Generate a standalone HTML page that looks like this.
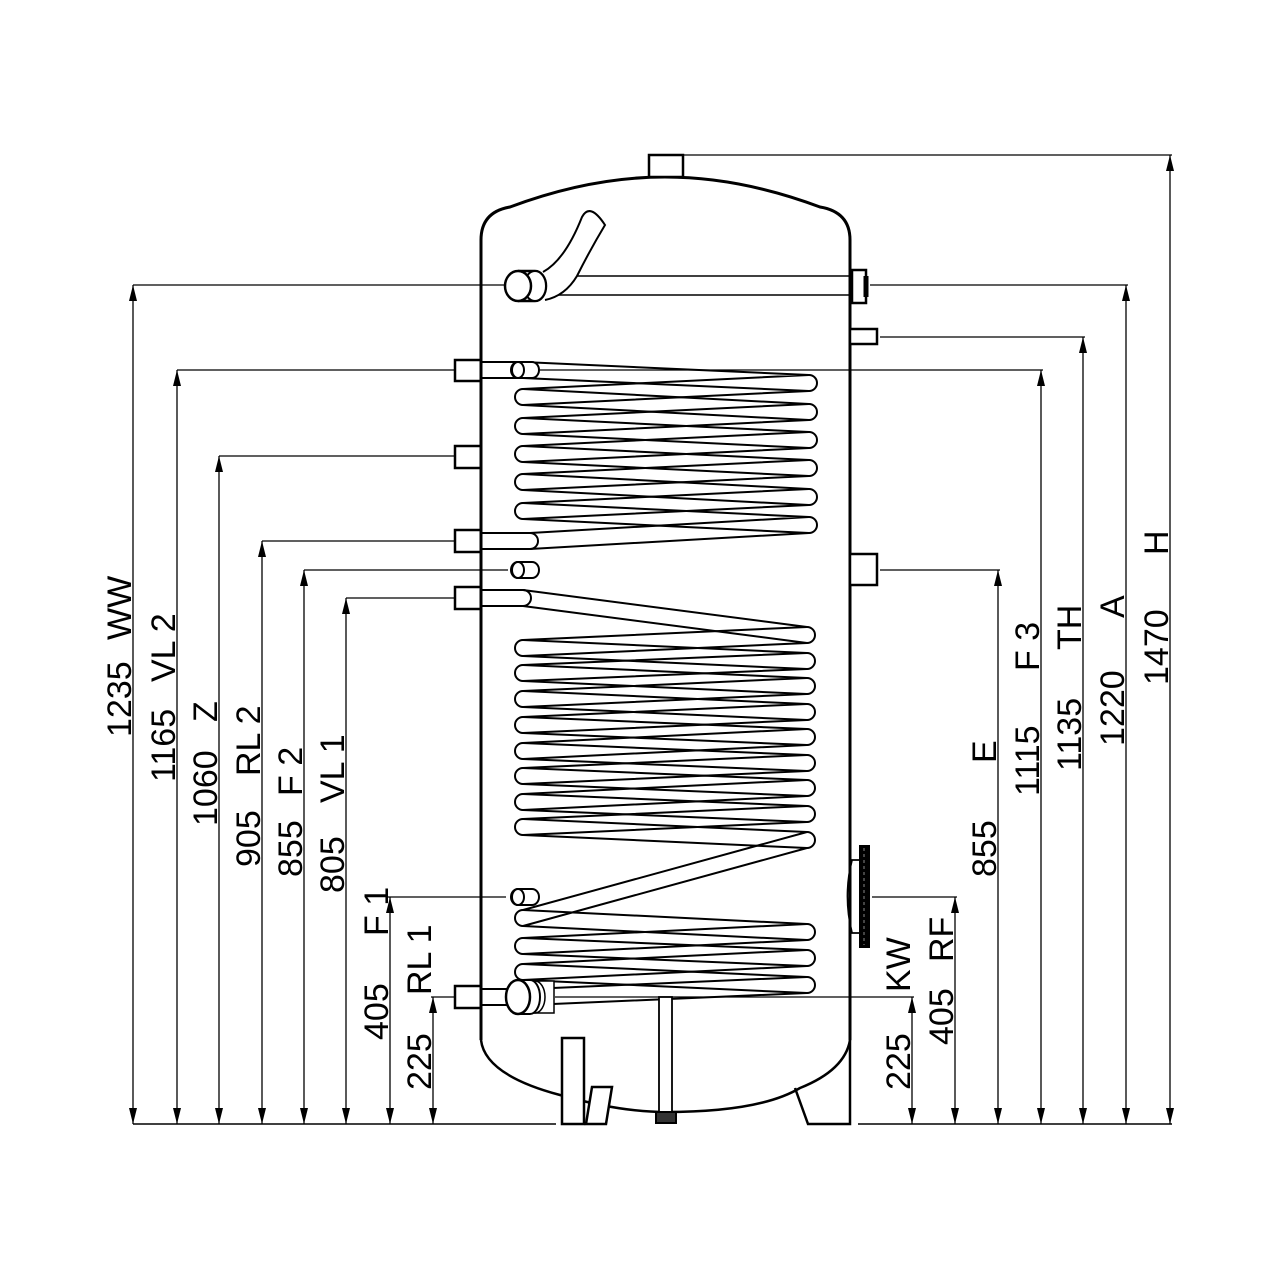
<!DOCTYPE html>
<html><head><meta charset="utf-8"><style>
html,body{margin:0;padding:0;background:#fff}
svg{display:block}
text{font-family:"Liberation Sans",Arial,sans-serif;font-size:34px;fill:#000}
</style></head><body>
<svg width="1280" height="1280" viewBox="0 0 1280 1280" xmlns="http://www.w3.org/2000/svg">
<g fill="none" stroke="#000">
<line x1="133" y1="1124" x2="556" y2="1124" stroke-width="1.5"/>
<line x1="858" y1="1124" x2="1172" y2="1124" stroke-width="1.5"/>
<g stroke-width="1.3">
<line x1="682" y1="155" x2="1172" y2="155"/>
<line x1="133" y1="285" x2="505" y2="285"/>
<line x1="870" y1="285" x2="1128" y2="285"/>
<line x1="880" y1="337" x2="1085" y2="337"/>
<line x1="177" y1="370" x2="455" y2="370"/>
<line x1="540" y1="370" x2="1043" y2="370"/>
<line x1="219" y1="456" x2="455" y2="456"/>
<line x1="262" y1="541" x2="455" y2="541"/>
<line x1="304" y1="570" x2="508" y2="570"/>
<line x1="880" y1="570" x2="1000" y2="570"/>
<line x1="346" y1="598" x2="455" y2="598"/>
<line x1="388" y1="897" x2="506" y2="897"/>
<line x1="872" y1="897" x2="957" y2="897"/>
<line x1="431" y1="997" x2="455" y2="997"/>
<line x1="555" y1="997" x2="914" y2="997"/>
<line x1="133" y1="285" x2="133" y2="1124"/>
<line x1="177" y1="370" x2="177" y2="1124"/>
<line x1="219" y1="456" x2="219" y2="1124"/>
<line x1="262" y1="541" x2="262" y2="1124"/>
<line x1="304" y1="570" x2="304" y2="1124"/>
<line x1="346" y1="598" x2="346" y2="1124"/>
<line x1="390" y1="897" x2="390" y2="1124"/>
<line x1="433" y1="997" x2="433" y2="1124"/>
<line x1="912" y1="997" x2="912" y2="1124"/>
<line x1="955" y1="897" x2="955" y2="1124"/>
<line x1="998" y1="570" x2="998" y2="1124"/>
<line x1="1041" y1="370" x2="1041" y2="1124"/>
<line x1="1083" y1="337" x2="1083" y2="1124"/>
<line x1="1126" y1="285" x2="1126" y2="1124"/>
<line x1="1170" y1="155" x2="1170" y2="1124"/>
</g>
</g>
<!-- arrowheads -->
<g fill="#000" stroke="none">
<path d="M133,285 l-4,16 h8z M133,1124 l-4,-16 h8z"/>
<path d="M177,370 l-4,16 h8z M177,1124 l-4,-16 h8z"/>
<path d="M219,456 l-4,16 h8z M219,1124 l-4,-16 h8z"/>
<path d="M262,541 l-4,16 h8z M262,1124 l-4,-16 h8z"/>
<path d="M304,570 l-4,16 h8z M304,1124 l-4,-16 h8z"/>
<path d="M346,598 l-4,16 h8z M346,1124 l-4,-16 h8z"/>
<path d="M390,897 l-4,16 h8z M390,1124 l-4,-16 h8z"/>
<path d="M433,997 l-4,16 h8z M433,1124 l-4,-16 h8z"/>
<path d="M912,997 l-4,16 h8z M912,1124 l-4,-16 h8z"/>
<path d="M955,897 l-4,16 h8z M955,1124 l-4,-16 h8z"/>
<path d="M998,570 l-4,16 h8z M998,1124 l-4,-16 h8z"/>
<path d="M1041,370 l-4,16 h8z M1041,1124 l-4,-16 h8z"/>
<path d="M1083,337 l-4,16 h8z M1083,1124 l-4,-16 h8z"/>
<path d="M1126,285 l-4,16 h8z M1126,1124 l-4,-16 h8z"/>
<path d="M1170,155 l-4,16 h8z M1170,1124 l-4,-16 h8z"/>
</g>

<g fill="none" stroke="#000">
<!-- tank -->
<path d="M481,1040 L481,240 Q481,212 510,207 Q590,177 665,177 Q740,177 820,207 Q850,212 850,240 L850,1040" stroke-width="3"/>
<path d="M481,1040 Q485,1075 560,1095 Q620,1112 665,1112 Q760,1112 800,1088 Q845,1070 850,1040" stroke-width="2.5"/>
<rect x="649" y="155" width="34" height="22" stroke-width="2.5" fill="#fff"/>

<g stroke-width="2.5" fill="#fff">
<rect x="455" y="360" width="26" height="21"/>
<rect x="455" y="446" width="26" height="22"/>
<rect x="455" y="530" width="26" height="22"/>
<rect x="455" y="587" width="26" height="22"/>
<rect x="455" y="986" width="26" height="22"/>
<rect x="850" y="329" width="27" height="15"/>
<rect x="850" y="554" width="27" height="31"/>
</g>
<rect x="852" y="270" width="14" height="33" stroke-width="2.5" fill="#fff"/>
<line x1="866" y1="276" x2="866" y2="297" stroke-width="5"/>

<!-- WW pipe -->
<line x1="577" y1="276" x2="850" y2="276" stroke-width="1.5"/>
<line x1="545" y1="295" x2="850" y2="295" stroke-width="1.5"/>
<path d="M543,272 Q565,260 582,217 Q590,202 605,225 Q590,250 577,276 Q565,296 545,300" stroke-width="2" fill="#fff"/>
<path d="M518,271 L535,271 A11,15 0 0 1 535,301 L518,301" stroke-width="2.5" fill="#fff"/>
<ellipse cx="535" cy="286" rx="11" ry="15" stroke-width="2" fill="#fff"/>
<ellipse cx="518" cy="286" rx="13" ry="15" stroke-width="2.5" fill="#fff"/>

<!-- upper coil -->
<g stroke-width="2" stroke-linejoin="round">
<polyline points="481,362 523,362 809,375 523,389 809,404 523,418 809,432 523,446 809,460 523,474 809,489 523,503 809,517 530,533 481,533"/>
<polyline points="481,378 523,378 809,391 523,405 809,420 523,434 809,448 523,462 809,476 523,490 809,505 523,519 809,533 530,549 481,549"/>
<path d="M809,375 A8,8 0 0 1 809,391 M809,404 A8,8 0 0 1 809,420 M809,432 A8,8 0 0 1 809,448 M809,460 A8,8 0 0 1 809,476 M809,489 A8,8 0 0 1 809,505 M809,517 A8,8 0 0 1 809,533"/>
<path d="M523,389 A8,8 0 0 0 523,405 M523,418 A8,8 0 0 0 523,434 M523,446 A8,8 0 0 0 523,462 M523,474 A8,8 0 0 0 523,490 M523,503 A8,8 0 0 0 523,519 M530,533 A8,8 0 0 1 530,549"/>
<!-- lower coil -->
<polyline points="481,590 523,590 807,627 523,640 807,653 523,665 807,678 523,691 807,704 523,717 807,729 523,743 807,755 523,768 807,780 523,794 807,806 523,819 807,832 523,910 807,924 523,938 807,950 523,964 807,977 530,989 481,989"/>
<polyline points="481,606 523,606 807,643 523,656 807,669 523,681 807,694 523,707 807,720 523,733 807,745 523,759 807,771 523,784 807,796 523,810 807,822 523,835 807,848 523,926 807,940 523,954 807,966 523,980 807,993 530,1005 481,1005"/>
<path d="M807,627 A8,8 0 0 1 807,643 M807,653 A8,8 0 0 1 807,669 M807,678 A8,8 0 0 1 807,694 M807,704 A8,8 0 0 1 807,720 M807,729 A8,8 0 0 1 807,745 M807,755 A8,8 0 0 1 807,771 M807,780 A8,8 0 0 1 807,796 M807,806 A8,8 0 0 1 807,822 M807,832 A8,8 0 0 1 807,848 M807,924 A8,8 0 0 1 807,940 M807,950 A8,8 0 0 1 807,966 M807,977 A8,8 0 0 1 807,993"/>
<path d="M523,590 A8,8 0 0 1 523,606 M523,640 A8,8 0 0 0 523,656 M523,665 A8,8 0 0 0 523,681 M523,691 A8,8 0 0 0 523,707 M523,717 A8,8 0 0 0 523,733 M523,743 A8,8 0 0 0 523,759 M523,768 A8,8 0 0 0 523,784 M523,794 A8,8 0 0 0 523,810 M523,819 A8,8 0 0 0 523,835 M523,910 A8,8 0 0 0 523,926 M523,938 A8,8 0 0 0 523,954 M523,964 A8,8 0 0 0 523,980"/>
</g>
<line x1="481" y1="240" x2="481" y2="1040" stroke-width="3"/>

<g stroke-width="2" fill="#fff">
<path d="M518,362 L532,362 A7,8 0 0 1 532,378 L518,378 A7,8 0 0 1 518,362 Z"/>
<ellipse cx="518" cy="370" rx="6" ry="8"/>
<path d="M518,562 L532,562 A7,8 0 0 1 532,578 L518,578 A7,8 0 0 1 518,562 Z"/>
<ellipse cx="518" cy="570" rx="6" ry="8"/>
<path d="M518,889 L532,889 A7,8 0 0 1 532,905 L518,905 A7,8 0 0 1 518,889 Z"/>
<ellipse cx="518" cy="897" rx="6" ry="8"/>
</g>
<rect x="527" y="981" width="27" height="32" stroke-width="1.5" fill="#fff"/>
<ellipse cx="535" cy="997" rx="10" ry="16" stroke-width="1.5" fill="#fff"/>
<path d="M518,980 L530,980 A10,17 0 0 1 530,1014 L518,1014" stroke-width="2" fill="#fff"/>
<ellipse cx="518" cy="997" rx="12" ry="17" stroke-width="2.5" fill="#fff"/>

<rect x="659" y="997" width="13" height="116" stroke-width="1.8" fill="#fff"/>
<rect x="656" y="1112" width="20" height="11" stroke-width="2" fill="#333"/>

<rect x="562" y="1038" width="22" height="86" stroke-width="2.5" fill="#fff"/>
<path d="M592,1087 L612,1087 L606,1124 L586,1124 Z" stroke-width="2.5" fill="#fff"/>
<path d="M795,1088 L808,1124 L850,1124 L850,1038" stroke-width="2.5"/>

<path d="M850,860 L859,860 M850,933 L859,933 M852,860 Q843,896 852,933" stroke-width="1.8"/>
<rect x="859" y="845" width="11" height="103" fill="#000" stroke="none"/>
<line x1="864" y1="848" x2="864" y2="945" stroke="#888" stroke-width="1" stroke-dasharray="3,3"/>
</g>

<g>
<text transform="translate(131,737) rotate(-90)">1235</text>
<text transform="translate(131,640) rotate(-90)">WW</text>
<text transform="translate(175,782) rotate(-90)">1165</text>
<text transform="translate(175,682) rotate(-90)">VL 2</text>
<text transform="translate(217,826) rotate(-90)">1060</text>
<text transform="translate(217,722) rotate(-90)">Z</text>
<text transform="translate(260,867) rotate(-90)">905</text>
<text transform="translate(260,776) rotate(-90)">RL 2</text>
<text transform="translate(302,877) rotate(-90)">855</text>
<text transform="translate(302,796) rotate(-90)">F 2</text>
<text transform="translate(344,893) rotate(-90)">805</text>
<text transform="translate(344,803) rotate(-90)">VL 1</text>
<text transform="translate(388,1040) rotate(-90)">405</text>
<text transform="translate(388,936) rotate(-90)">F 1</text>
<text transform="translate(431,1090) rotate(-90)">225</text>
<text transform="translate(431,995) rotate(-90)">RL 1</text>
<text transform="translate(910,1090) rotate(-90)">225</text>
<text transform="translate(910,992) rotate(-90)">KW</text>
<text transform="translate(953,1045) rotate(-90)">405</text>
<text transform="translate(953,962) rotate(-90)">RF</text>
<text transform="translate(996,877) rotate(-90)">855</text>
<text transform="translate(996,763) rotate(-90)">E</text>
<text transform="translate(1039,796) rotate(-90)">1115</text>
<text transform="translate(1039,671) rotate(-90)">F 3</text>
<text transform="translate(1081,771) rotate(-90)">1135</text>
<text transform="translate(1081,650) rotate(-90)">TH</text>
<text transform="translate(1124,746) rotate(-90)">1220</text>
<text transform="translate(1124,618) rotate(-90)">A</text>
<text transform="translate(1168,685) rotate(-90)">1470</text>
<text transform="translate(1168,555) rotate(-90)">H</text>
</g>
</svg>
</body></html>
